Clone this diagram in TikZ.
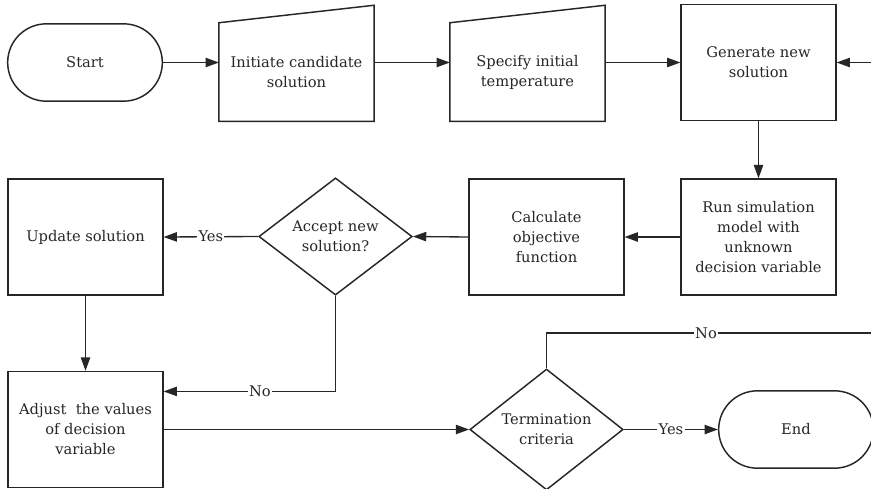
\documentclass[tikz,border=0pt]{standalone}
\usepackage{fontspec}
\setmainfont{DejaVu Serif}
\usetikzlibrary{shapes.geometric, shapes.misc, arrows.meta}
\definecolor{ink}{RGB}{38,38,38}

\tikzset{
  terminal/.style={rounded rectangle, draw=ink, line width=1.1pt, minimum width=116pt, minimum height=58pt, inner sep=0pt},
  procbox/.style={rectangle, draw=ink, line width=1.1pt, minimum width=116pt, minimum height=87pt, align=center, inner sep=2pt},
  inputbox/.style={rectangle, minimum width=116pt, minimum height=73.5pt, align=center, inner sep=2pt},
  decision/.style={diamond, draw=ink, line width=1.1pt, minimum width=115pt, minimum height=86pt, inner sep=0pt, align=center},
  flow/.style={draw=ink, line width=1pt, -{Triangle[length=10pt,width=7pt]}},
  answer/.style={fill=white, inner sep=1pt},
}

\begin{document}
\begin{tikzpicture}[x=0.75pt,y=0.75pt,yscale=-1,xscale=1, every node/.style={text=ink, font=\fontsize{11}{15}\selectfont}]
\useasboundingbox (0,0) rectangle (871,489);

%Shape: Terminals
\node[terminal] (start) at (85,62.5) {Start};
\node[terminal] (end) at (796,429.5) {End};

%Shape: Manual input
\node[inputbox] (init) at (296.5,72) {Initiate candidate\\solution};
\draw[draw=ink, line width=1.1pt] (init.south west) -- (init.south east) -- ++(0,-116) -- (init.north west) -- cycle;
\node[inputbox] (spec) at (527.5,72) {Specify initial\\temperature};
\draw[draw=ink, line width=1.1pt] (spec.south west) -- (spec.south east) -- ++(0,-116) -- (spec.north west) -- cycle;

%Shape: Process boxes
\node[procbox] (gen) at (758.5,62.5) {Generate new\\solution};
\node[procbox] (run) at (758.5,237) {Run simulation\\model with\\unknown\\decision variable};
\node[procbox] (calc) at (546.5,237) {Calculate\\objective\\function};
\node[procbox] (upd) at (85.5,237) {Update solution};
\node[procbox] (adj) at (85.5,429.5) {Adjust\ \ the values\\of decision\\variable};

%Shape: Decisions
\node[decision] (acc) at (335.5,236.5) {Accept new\\solution?};
\node[decision] (term) at (546.5,429.5) {Termination\\criteria};

\coordinate (redo) at (872,333);

%Straight Lines
\draw[flow] (start.east) -- (start.east -| init.west);
\draw[flow] (init.east |- start.east) -- (start.east -| spec.west);
\draw[flow] (spec.east |- gen.west) -- (gen.west);
\draw[flow] (gen.south) -- (run.north);
\draw[flow] (run.west) -- (calc.east);
\draw[flow] (calc.west) -- (acc.east);
\draw[flow] (acc.west) -- node[answer]{Yes} (upd.east);
\draw[flow] (upd.south) -- (adj.north);
\draw[flow] (acc.south) |- node[answer, pos=0.72]{No} (adj.26);
\draw[flow] (adj.east) -- (term.west);
\draw[flow] (term.east) -- node[answer]{Yes} (end.west);
\draw[flow] (term.north) |- node[answer, pos=0.745]{No} (redo) |- (gen.east);

\end{tikzpicture}
\end{document}
